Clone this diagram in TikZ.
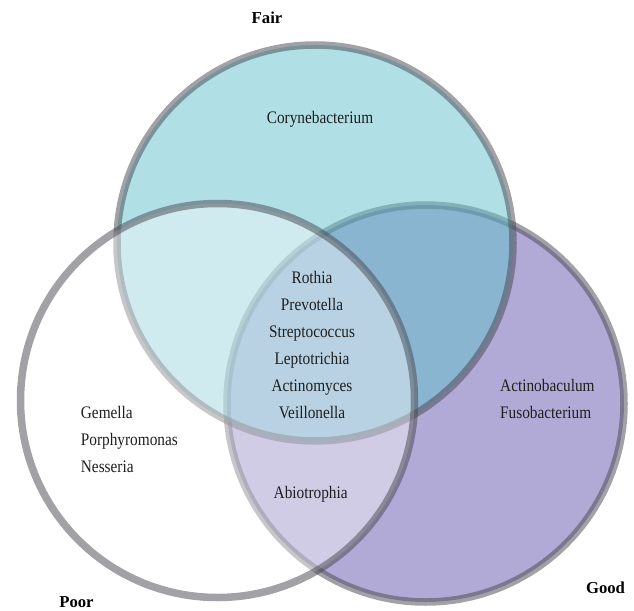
\documentclass[tikz,border=0pt]{standalone}
\usepackage{fontspec}
\setmainfont{Liberation Serif}
\newfontfamily\spfont[FakeStretch=0.87]{Liberation Serif}
\definecolor{goodfill}{RGB}{178,170,214}
\definecolor{fairfill}{RGB}{99,193,205}
\definecolor{ringgray}{RGB}{70,70,78}
\tikzset{
  ring/.style={line width=7.5pt, draw=ringgray, draw opacity=0.5},
  spname/.style={font=\spfont\fontsize{17.6}{27}\selectfont, inner sep=0pt, text=black!88},
  setlabel/.style={font=\bfseries\fontsize{16.7}{20}\selectfont, inner sep=0pt, text=black},
}
\begin{document}
\begin{tikzpicture}[x=1pt,y=-1pt]
\useasboundingbox (0,0) rectangle (634,610);
\path[fill=white] (0,0) rectangle (634,610);
% circles: Good, Fair, Poor (drawn in this order)
\path[ring, fill=goodfill] (425.5,403.5) circle[radius=198.5pt];
\path[ring, fill=fairfill, fill opacity=0.5] (315,243) circle[radius=198pt];
\path[ring, fill=white, fill opacity=0.4] (217.5,400.5) circle[radius=197pt];
% set labels
\node[setlabel, anchor=base] (fairlbl) at (267,24) {Fair};
\node[setlabel, anchor=base] (goodlbl) at (605.5,593) {Good};
\node[setlabel, anchor=base] (poorlbl) at (76.5,607) {Poor};
% Fair only
\node[spname, anchor=base] (cory) at (320,123) {Corynebacterium};
% all three
\node[spname, anchor=base] (c1) at (312,283.3) {Rothia};
\node[spname, anchor=base] (c2) at (312,310.3) {Prevotella};
\node[spname, anchor=base] (c3) at (312,337.3) {Streptococcus};
\node[spname, anchor=base] (c4) at (312,364.3) {Leptotrichia};
\node[spname, anchor=base] (c5) at (312,391.3) {Actinomyces};
\node[spname, anchor=base] (c6) at (312,418.3) {Veillonella};
% Poor only
\node[spname, anchor=base west] (p1) at (80.7,418) {Gemella};
\node[spname, anchor=base west] (p2) at (80.7,445) {Porphyromonas};
\node[spname, anchor=base west] (p3) at (80.7,472) {Nesseria};
% Good only
\node[spname, anchor=base west] (g1) at (500,391) {Actinobaculum};
\node[spname, anchor=base west] (g2) at (500,418) {Fusobacterium};
% Poor and Good
\node[spname, anchor=base] (pg) at (310.7,498) {Abiotrophia};
\end{tikzpicture}
\end{document}
